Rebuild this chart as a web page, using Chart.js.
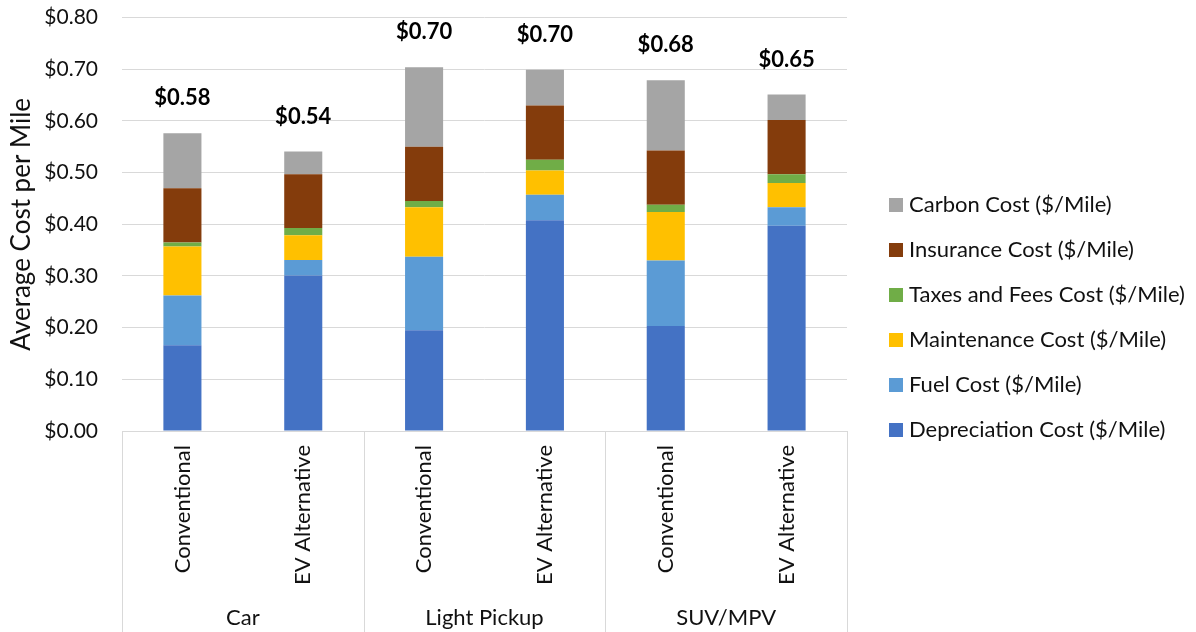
<!DOCTYPE html>
<html>
<head>
<meta charset="utf-8">
<script src="https://cdn.jsdelivr.net/npm/chart.js@4.4.1/dist/chart.umd.min.js"></script>
<style>
  html, body { margin: 0; padding: 0; background: #ffffff; }
  #wrap { width: 1196px; height: 632px; }
</style>
</head>
<body>
<div id="wrap"><canvas id="c" width="1196" height="632"></canvas></div>
<script>
// Vehicle classes and the powertrain option shown for each bar
const groups = ['Car', 'Light Pickup', 'SUV/MPV'];
const vehicleTypes = ['Conventional', 'EV Alternative', 'Conventional', 'EV Alternative', 'Conventional', 'EV Alternative'];

// Cost components, $ per mile
const depreciation = [0.166, 0.301, 0.195, 0.408, 0.203, 0.397];
const fuel         = [0.096, 0.030, 0.142, 0.049, 0.127, 0.036];
const maintenance  = [0.095, 0.048, 0.096, 0.047, 0.094, 0.047];
const taxesFees    = [0.008, 0.014, 0.012, 0.021, 0.014, 0.017];
const insurance    = [0.105, 0.104, 0.105, 0.105, 0.105, 0.105];
const carbon       = [0.106, 0.044, 0.154, 0.069, 0.136, 0.049];

// Value axis range
const yMin = 0;
const yMax = 0.8;
const yStep = 0.1;

const FONT = 'Lato, "Noto Sans", sans-serif';
const TEXT = '#111111';
const GRID = '#d9d9d9';

const series = [
  { label: 'Depreciation Cost ($/Mile)', data: depreciation, color: '#4472c4' },
  { label: 'Fuel Cost ($/Mile)',         data: fuel,         color: '#5b9bd5' },
  { label: 'Maintenance Cost ($/Mile)',  data: maintenance,  color: '#ffc000' },
  { label: 'Taxes and Fees Cost ($/Mile)', data: taxesFees,  color: '#70ad47' },
  { label: 'Insurance Cost ($/Mile)',    data: insurance,    color: '#843c0c' },
  { label: 'Carbon Cost ($/Mile)',       data: carbon,       color: '#a5a5a5' }
];

// Stack totals written above each bar
const totalLabels = {
  id: 'totalLabels',
  afterDatasetsDraw(chart) {
    const ctx = chart.ctx;
    const y = chart.scales.y;
    const lastMeta = chart.getDatasetMeta(chart.data.datasets.length - 1);
    ctx.save();
    ctx.font = 'bold 22px ' + FONT;
    ctx.fillStyle = '#000000';
    ctx.textAlign = 'center';
    ctx.textBaseline = 'middle';
    chart.data.labels.forEach((_, i) => {
      const total = chart.data.datasets.reduce((s, ds) => s + ds.data[i], 0);
      const px = lastMeta.data[i].x;
      const py = y.getPixelForValue(total) - 35;
      ctx.fillText('$' + total.toFixed(2), px, py);
    });
    ctx.restore();
  }
};

// Group separators and group names under the rotated bar labels
const groupAxis = {
  id: 'groupAxis',
  afterDraw(chart) {
    const ctx = chart.ctx;
    const x = chart.scales.x;
    const top = chart.chartArea.bottom;
    const bottom = chart.height;
    const per = vehicleTypes.length / groups.length;
    const bounds = [];
    for (let g = 0; g <= groups.length; g++) {
      if (g === 0) bounds.push(x.left);
      else if (g === groups.length) bounds.push(x.right);
      else bounds.push((x.getPixelForValue(g * per - 1) + x.getPixelForValue(g * per)) / 2);
    }
    ctx.save();
    ctx.strokeStyle = GRID;
    ctx.lineWidth = 1;
    bounds.forEach(bx => {
      const xx = Math.round(bx) + 0.5;
      ctx.beginPath();
      ctx.moveTo(xx, top);
      ctx.lineTo(xx, bottom);
      ctx.stroke();
    });
    ctx.font = '22px ' + FONT;
    ctx.fillStyle = TEXT;
    ctx.textAlign = 'center';
    ctx.textBaseline = 'middle';
    groups.forEach((name, g) => {
      ctx.fillText(name, (bounds[g] + bounds[g + 1]) / 2, 618);
    });
    ctx.restore();
  }
};

// Legend listed top-down from the top of the stack
const sideLegend = {
  id: 'sideLegend',
  afterDraw(chart) {
    const ctx = chart.ctx;
    const items = chart.data.datasets.slice().reverse();
    const boxX = 889, textX = 909, firstY = 205, rowGap = 45, box = 14;
    ctx.save();
    ctx.font = '22px ' + FONT;
    ctx.textAlign = 'left';
    ctx.textBaseline = 'middle';
    items.forEach((ds, i) => {
      const cy = firstY + i * rowGap;
      ctx.fillStyle = ds.backgroundColor;
      ctx.fillRect(boxX, cy - box / 2, box, box);
      ctx.fillStyle = TEXT;
      ctx.fillText(ds.label, textX, cy);
    });
    ctx.restore();
  }
};

new Chart(document.getElementById('c'), {
  type: 'bar',
  data: {
    labels: vehicleTypes,
    datasets: series.map(s => ({
      label: s.label,
      data: s.data,
      backgroundColor: s.color,
      borderWidth: 0,
      barPercentage: 0.315,
      categoryPercentage: 1.0
    }))
  },
  options: {
    responsive: false,
    animation: false,
    devicePixelRatio: 1,
    layout: { padding: { top: 0, right: 349, left: 0, bottom: 0 } },
    plugins: {
      legend: { display: false },
      tooltip: { enabled: false }
    },
    scales: {
      x: {
        stacked: true,
        offset: true,
        grid: { display: false, drawTicks: false },
        border: { display: true, color: GRID, width: 1 },
        ticks: {
          autoSkip: false,
          minRotation: 90,
          maxRotation: 90,
          padding: 14,
          color: TEXT,
          font: { family: FONT, size: 22 }
        },
        afterFit(scale) { scale.height = 201; }
      },
      y: {
        stacked: true,
        min: yMin,
        max: yMax,
        grid: {
          color: GRID,
          lineWidth: 1,
          drawTicks: true,
          tickLength: 19,
          tickColor: 'rgba(0,0,0,0)'
        },
        border: { display: false },
        ticks: {
          stepSize: yStep,
          padding: 5,
          color: TEXT,
          font: { family: FONT, size: 21 },
          callback: v => '$' + Number(v).toFixed(2)
        },
        title: {
          display: true,
          text: 'Average Cost per Mile',
          color: TEXT,
          font: { family: FONT, size: 26 },
          padding: { top: 6, bottom: 0 }
        },
        afterFit(scale) { scale.width = 122; }
      }
    }
  },
  plugins: [totalLabels, groupAxis, sideLegend]
});
</script>
</body>
</html>
